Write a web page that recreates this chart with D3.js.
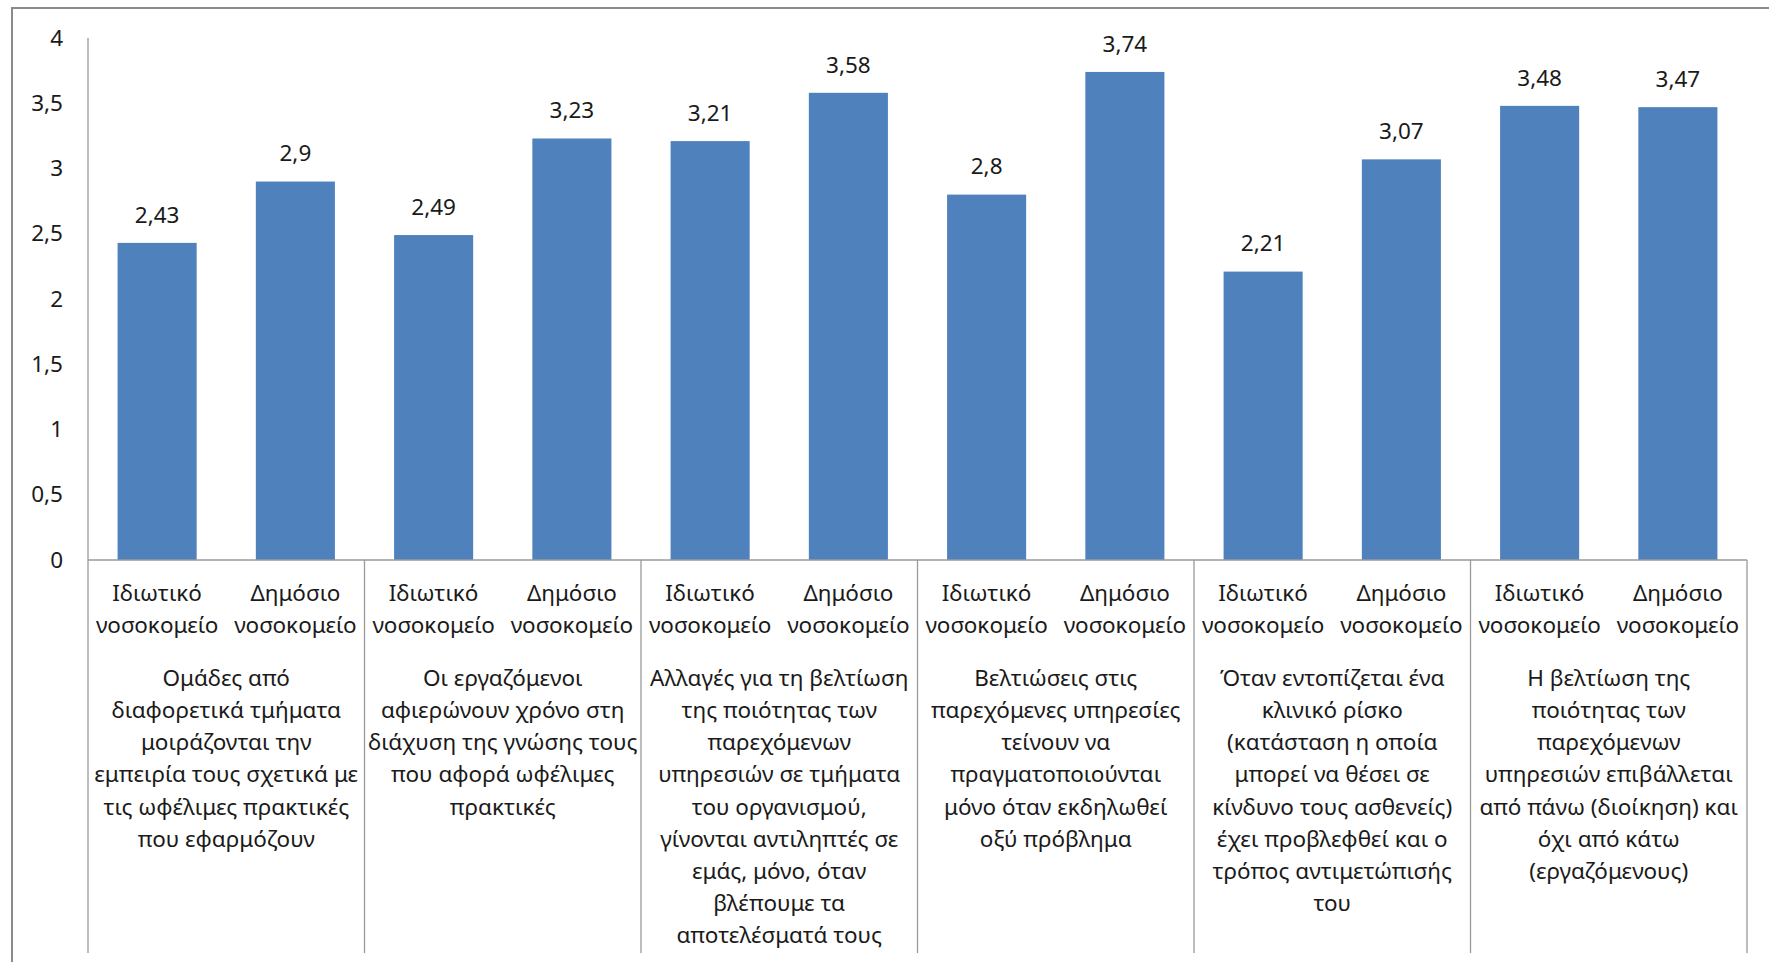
<!DOCTYPE html>
<html>
<head>
<meta charset="utf-8">
<script src="https://cdn.jsdelivr.net/npm/d3@7"></script>
<style>
  html, body { margin: 0; padding: 0; background: #fff; }
  svg { display: block; }
  text { font-family: "Noto Sans", "Open Sans", sans-serif; fill: #1a1a1a; }
</style>
</head>
<body>
<svg id="chart" width="1769" height="962"></svg>
<script>
// Survey statements (each wrapped onto lines as printed under the axis)
const groupLabels = [
  ["Ομάδες από", "διαφορετικά τμήματα", "μοιράζονται την", "εμπειρία τους σχετικά με", "τις ωφέλιμες πρακτικές", "που εφαρμόζουν"],
  ["Οι εργαζόμενοι", "αφιερώνουν χρόνο στη", "διάχυση της γνώσης τους", "που αφορά ωφέλιμες", "πρακτικές"],
  ["Αλλαγές για τη βελτίωση", "της ποιότητας των", "παρεχόμενων", "υπηρεσιών σε τμήματα", "του οργανισμού,", "γίνονται αντιληπτές σε", "εμάς, μόνο, όταν", "βλέπουμε τα", "αποτελέσματά τους"],
  ["Βελτιώσεις στις", "παρεχόμενες υπηρεσίες", "τείνουν να", "πραγματοποιούνται", "μόνο όταν εκδηλωθεί", "οξύ πρόβλημα"],
  ["Όταν εντοπίζεται ένα", "κλινικό ρίσκο", "(κατάσταση η οποία", "μπορεί να θέσει σε", "κίνδυνο τους ασθενείς)", "έχει προβλεφθεί και ο", "τρόπος αντιμετώπισής", "του"],
  ["Η βελτίωση της", "ποιότητας των", "παρεχόμενων", "υπηρεσιών επιβάλλεται", "από πάνω (διοίκηση) και", "όχι από κάτω", "(εργαζόμενους)"]
];

// Hospital type within each statement
const hospitalTypes = [
  ["Ιδιωτικό", "νοσοκομείο"],
  ["Δημόσιο", "νοσοκομείο"]
];

// Mean scores: [private, public] per statement
const privateValues = [2.43, 2.49, 3.21, 2.80, 2.21, 3.48];
const publicValues  = [2.90, 3.23, 3.58, 3.74, 3.07, 3.47];

const yTicks = [0, 0.5, 1, 1.5, 2, 2.5, 3, 3.5, 4];

const svg = d3.select("#chart");
const margin = { left: 88, right: 1747, top: 38, bottom: 560 };
const fontSize = 22.5;

const fmt = d3.formatLocale({ decimal: ",", thousands: ".", grouping: [3], currency: ["", "€"] }).format("~g");

const groupIdx = d3.range(groupLabels.length);
const x0 = d3.scaleBand().domain(groupIdx).range([margin.left, margin.right]).padding(0);
const x1 = d3.scaleBand().domain([0, 1]).range([0, x0.bandwidth()]).paddingInner(0.428).paddingOuter(0.214);
const y = d3.scaleLinear().domain([0, 4]).range([margin.bottom, margin.top]);

const rows = groupIdx.flatMap(g => [
  { g, s: 0, v: privateValues[g] },
  { g, s: 1, v: publicValues[g] }
]);

// Outer frame of the chart area
svg.append("rect")
  .attr("x", 12).attr("y", 8)
  .attr("width", 1780).attr("height", 980)
  .attr("fill", "none").attr("stroke", "#8a8a8a").attr("stroke-width", 2);

// Bars
svg.append("g").selectAll("rect")
  .data(rows)
  .join("rect")
  .attr("x", d => x0(d.g) + x1(d.s))
  .attr("y", d => y(d.v))
  .attr("width", x1.bandwidth())
  .attr("height", d => y(0) - y(d.v))
  .attr("fill", "#4f81bd");

// Value labels
svg.append("g").selectAll("text")
  .data(rows)
  .join("text")
  .attr("x", d => x0(d.g) + x1(d.s) + x1.bandwidth() / 2)
  .attr("y", d => y(d.v) - 28)
  .attr("dy", "0.35em")
  .attr("text-anchor", "middle")
  .attr("font-size", fontSize)
  .text(d => fmt(d.v));

// Y axis
const yAxis = svg.append("g")
  .attr("transform", `translate(${margin.left},0)`)
  .call(d3.axisLeft(y).tickValues(yTicks).tickSize(0).tickPadding(25).tickFormat(fmt));
yAxis.select(".domain").remove();
yAxis.selectAll("text").attr("font-size", fontSize).attr("fill", "#1a1a1a")
  .style("font-family", "'Noto Sans', sans-serif");

// Axis lines and group separators
const lineColor = "#9a9a9a";
const axisBottom = 953;
svg.append("line")
  .attr("x1", margin.left).attr("x2", margin.left)
  .attr("y1", y(4)).attr("y2", axisBottom)
  .attr("stroke", lineColor).attr("stroke-width", 1.3);
svg.append("line")
  .attr("x1", margin.left).attr("x2", margin.right)
  .attr("y1", y(0)).attr("y2", y(0))
  .attr("stroke", lineColor).attr("stroke-width", 1.3);
svg.append("g").selectAll("line")
  .data(groupIdx)
  .join("line")
  .attr("x1", g => x0(g) + x0.bandwidth()).attr("x2", g => x0(g) + x0.bandwidth())
  .attr("y1", y(0)).attr("y2", axisBottom)
  .attr("stroke", lineColor).attr("stroke-width", 1.3);

const lineH = 32.2;

// Hospital type labels under each bar
svg.append("g").selectAll("text")
  .data(rows)
  .join("text")
  .attr("x", d => x0(d.g) + x1(d.s) + x1.bandwidth() / 2)
  .attr("y", 593)
  .attr("text-anchor", "middle")
  .attr("font-size", fontSize)
  .selectAll("tspan")
  .data(d => hospitalTypes[d.s].map(t => ({ t, cx: x0(d.g) + x1(d.s) + x1.bandwidth() / 2 })))
  .join("tspan")
  .attr("x", d => d.cx)
  .attr("dy", (d, i) => i === 0 ? "0.35em" : lineH)
  .text(d => d.t);

// Statement labels
svg.append("g").selectAll("text")
  .data(groupIdx)
  .join("text")
  .attr("x", g => x0(g) + x0.bandwidth() / 2)
  .attr("y", 678)
  .attr("text-anchor", "middle")
  .attr("font-size", fontSize)
  .selectAll("tspan")
  .data(g => groupLabels[g].map(t => ({ t, cx: x0(g) + x0.bandwidth() / 2 })))
  .join("tspan")
  .attr("x", d => d.cx)
  .attr("dy", (d, i) => i === 0 ? "0.35em" : lineH)
  .text(d => d.t);
</script>
</body>
</html>
